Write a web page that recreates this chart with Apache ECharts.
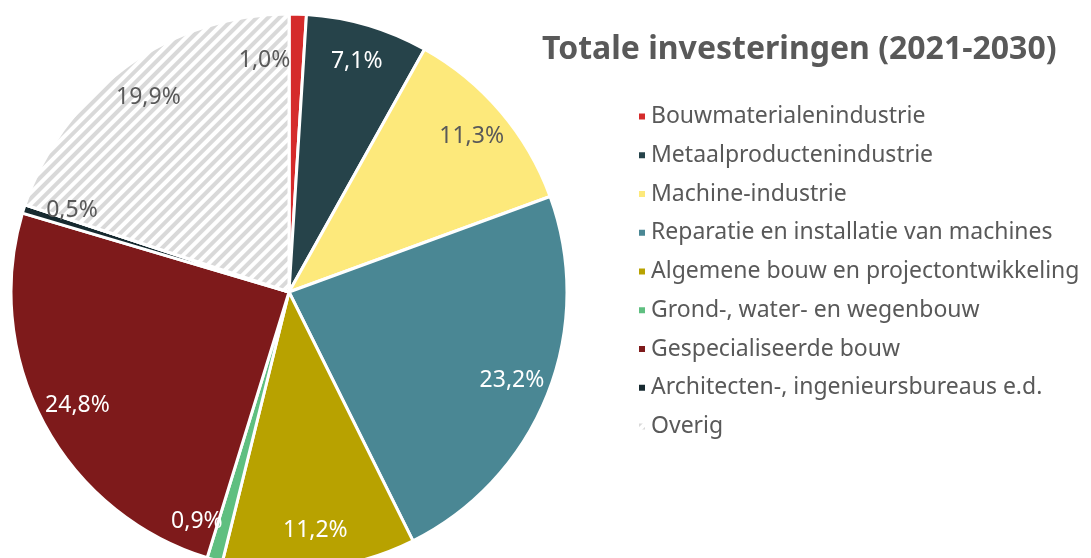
<!DOCTYPE html>
<html>
<head>
<meta charset="utf-8">
<script src="https://cdn.jsdelivr.net/npm/echarts@6/dist/echarts.min.js"></script>
<style>
  html, body { margin: 0; padding: 0; background: #fff; }
  #main { width: 1091px; height: 558px; }
</style>
</head>
<body>
<div id="main"></div>
<script>
// categories and shares (%)
var categories = [
    'Bouwmaterialenindustrie',
    'Metaalproductenindustrie',
    'Machine-industrie',
    'Reparatie en installatie van machines',
    'Algemene bouw en projectontwikkeling',
    'Grond-, water- en wegenbouw',
    'Gespecialiseerde bouw',
    'Architecten-, ingenieursbureaus e.d.',
    'Overig'
];
var shares = [1.0, 7.1, 11.3, 23.2, 11.2, 0.9, 24.8, 0.5, 19.9];
var colors = ['#d52b2b', '#26434a', '#fde97b', '#4a8794', '#b8a200', '#5fbf80', '#7e1a1b', '#172a30', '#ffffff'];
var labelColors = ['#595959', '#ffffff', '#595959', '#ffffff', '#ffffff', '#ffffff', '#ffffff', '#595959', '#595959'];
// small label nudges for the thin slices (px)
var labelNudge = { 0: [-32, 8], 5: [-28, -2], 7: [12, -10] };

var font = '"Noto Sans", sans-serif';

// light grey diagonal stripes for "Overig"
var hatch = {
    symbol: 'rect',
    symbolSize: 1,
    dashArrayX: [1, 0],
    dashArrayY: [4, 4],
    rotation: -Math.PI / 4,
    color: '#d9d9d9'
};

var pieData = categories.map(function (name, i) {
    var d = { name: name, value: shares[i], itemStyle: { color: colors[i] } };
    if (name === 'Overig') d.itemStyle.decal = hatch;
    return d;
});

var labelData = categories.map(function (name, i) {
    var lab = { color: labelColors[i] };
    if (labelNudge[i]) lab.offset = labelNudge[i];
    return { name: name, value: shares[i], label: lab };
});

var myChart = echarts.init(document.getElementById('main'));
myChart.setOption({
    animation: false,
    title: {
        text: 'Totale investeringen (2021-2030)',
        left: 537,
        top: 29,
        textStyle: { fontFamily: font, fontSize: 32, fontWeight: 'bold', color: '#595959' }
    },
    legend: {
        orient: 'vertical',
        left: 632,
        top: 100,
        itemWidth: 8,
        itemHeight: 8,
        itemGap: 15.75,
        icon: 'rect',
        data: categories,
        textStyle: { fontFamily: font, fontSize: 23, color: '#595959', lineHeight: 22 }
    },
    series: [
        {
            name: 'Totale investeringen',
            type: 'pie',
            center: [289, 292],
            radius: [0, 278],
            startAngle: 90,
            clockwise: true,
            label: { show: false },
            labelLine: { show: false },
            itemStyle: { borderColor: '#ffffff', borderWidth: 3 },
            data: pieData
        },
        {
            // transparent ring that only carries the percentage labels
            name: 'labels',
            type: 'pie',
            silent: true,
            legendHoverLink: false,
            center: [289, 292],
            radius: [196, 278],
            startAngle: 90,
            clockwise: true,
            itemStyle: { color: 'rgba(0,0,0,0)', borderWidth: 0 },
            label: {
                show: true,
                position: 'inside',
                fontFamily: font,
                fontSize: 23,
                formatter: function (p) { return p.value.toFixed(1).replace('.', ',') + '%'; }
            },
            labelLine: { show: false },
            data: labelData
        }
    ]
});
</script>
</body>
</html>
